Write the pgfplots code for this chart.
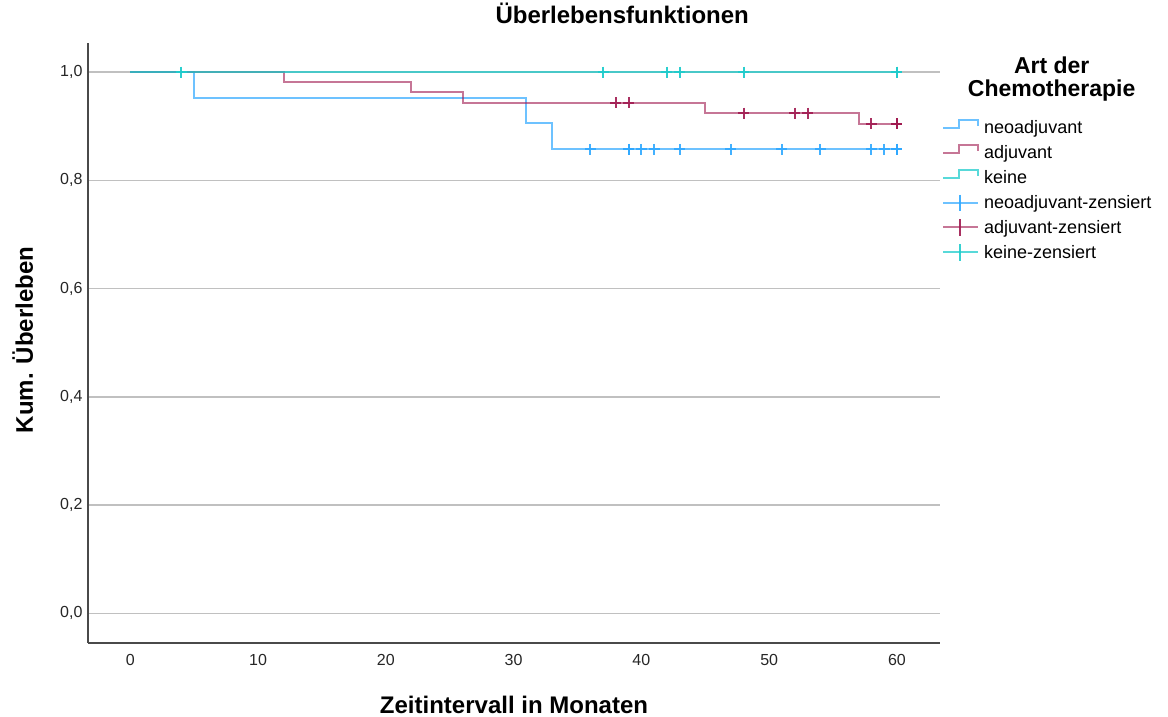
\documentclass[border=0pt]{standalone}
\usepackage{fontspec}
\setmainfont{Liberation Sans}
\usepackage{pgfplots}
\pgfplotsset{compat=1.18}
\definecolor{cblue}{HTML}{2FA8FF}
\definecolor{cred}{HTML}{A01A50}
\definecolor{cteal}{HTML}{20CCCC}
\definecolor{gridc}{HTML}{C0C0C0}
\definecolor{axc}{HTML}{4A4A4A}
\begin{document}
\begin{tikzpicture}[x=1pt,y=1pt]
\useasboundingbox (0,0) rectangle (1168,717);
\begin{axis}[
  at={(88pt,74pt)}, anchor=south west,
  scale only axis, width=852pt, height=600pt,
  xmin=-3.31, xmax=63.37, ymin=-0.0549, ymax=1.0536,
  axis lines=left,
  axis line style={-, draw=axc, line width=2pt},
  xtick={0,10,20,30,40,50,60},
  ytick={0,0.2,0.4,0.6,0.8,1.0},
  major tick length=0pt,
  ymajorgrids,
  grid style={draw=gridc, line width=1.5pt},
  tick label style={font=\fontsize{16}{18}\selectfont, text=black!85},
  /pgf/number format/assume math mode=true,
  yticklabel style={/pgf/number format/.cd, fixed, fixed zerofill, precision=1, use comma, /tikz/.cd, xshift=-2pt},
  xticklabel style={yshift=-8pt},
  title={Überlebensfunktionen},
  title style={at={(axis description cs:0.627,1.0217)}, anchor=base, font=\fontsize{24}{27}\selectfont\bfseries},
  xlabel={Zeitintervall in Monaten},
  xlabel style={at={(axis description cs:0.5,-0.1167)}, anchor=base, font=\fontsize{24}{28}\selectfont\bfseries},
  ylabel={Kum. Überleben},
  ylabel style={at={(axis description cs:-0.0646,0.505)}, anchor=base, font=\fontsize{24}{28}\selectfont\bfseries},
]
% survival curves
\addplot[const plot, cblue, line width=2pt, draw opacity=0.7] coordinates {
  (0,1.0) (5,0.952) (31,0.905) (33,0.857) (60,0.857)};
\addplot[const plot, cred, line width=2pt, draw opacity=0.6] coordinates {
  (0,1.0) (12,0.981) (22,0.9625) (26,0.943) (45,0.924) (57,0.904) (60,0.904)};
\addplot[const plot, cteal, line width=2pt, draw opacity=0.75] coordinates {
  (0,1.0) (60,1.0)};
% censored
\addplot[only marks, mark=+, mark size=5.5pt, cblue, line width=2pt, opacity=0.9] coordinates {
  (36,0.857) (39,0.857) (39,0.857) (40,0.857) (41,0.857) (43,0.857) (47,0.857)
  (51,0.857) (54,0.857) (58,0.857) (59,0.857) (60,0.857) (60,0.857) (60,0.857)};
\addplot[only marks, mark=+, mark size=5.5pt, cred, line width=2pt, opacity=0.9] coordinates {
  (38,0.943) (39,0.943) (48,0.924) (52,0.924) (53,0.924)
  (58,0.904) (60,0.904) (60,0.904) (60,0.904)};
\addplot[only marks, mark=+, mark size=5.5pt, cteal, line width=2pt, opacity=0.95] coordinates {
  (4,1.0) (37,1.0) (42,1.0) (43,1.0) (48,1.0) (60,1.0) (60,1.0)};
\end{axis}
% legend
\node[anchor=base, inner sep=0, font=\fontsize{23}{26}\selectfont\bfseries] at (1051.7,{717-73.3}) {Art der};
\node[anchor=base, inner sep=0, font=\fontsize{23}{26}\selectfont\bfseries] at (1051.7,{717-96.7}) {Chemotherapie};
\foreach \b/\c/\o/\t in {134/cblue/0.7/neoadjuvant, 158.9/cred/0.6/adjuvant, 183.7/cteal/0.75/keine}{
  \draw[\c, line width=2pt, draw opacity=\o] (943,{717-(\b-6)}) -- (959,{717-(\b-6)}) -- (959,{717-(\b-14)}) -- (978,{717-(\b-14)}) -- (978,{717-(\b-8)});
  \node[anchor=base west, inner sep=0, font=\fontsize{18}{20}\selectfont] at (984,{717-\b}) {\t};
}
\foreach \b/\c/\o/\t in {208.6/cblue/0.7/neoadjuvant-zensiert, 233.4/cred/0.6/adjuvant-zensiert, 258.3/cteal/0.75/keine-zensiert}{
  \draw[\c, line width=2pt, draw opacity=\o] (943,{717-(\b-6)}) -- (978,{717-(\b-6)});
  \draw[\c, line width=2pt, draw opacity=0.9] (960,{717-(\b-14)}) -- (960,{717-(\b+2.5)});
  \node[anchor=base west, inner sep=0, font=\fontsize{18}{20}\selectfont] at (984,{717-\b}) {\t};
}
\end{tikzpicture}
\end{document}
